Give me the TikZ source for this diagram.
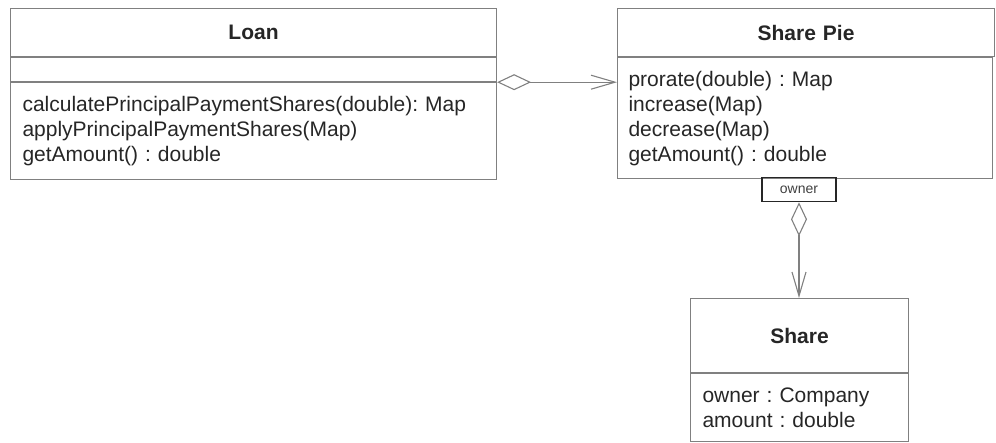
\documentclass[tikz,border=0pt]{standalone}
\usepackage{fontspec}
\setmainfont{Liberation Sans}
\frenchspacing
\usepackage{tikz}
\usetikzlibrary{arrows.meta, positioning}
\tikzset{
  cls/.style={rectangle, draw=black!50, line width=1.1pt, anchor=north west,
              inner xsep=12pt, inner ysep=0pt, text=black!85,
              font=\fontsize{21}{25}\selectfont},
  clsname/.style={cls, align=center, font=\fontsize{21}{25}\selectfont\bfseries},
  clsbody/.style={cls, align=left},
  rolelbl/.style={rectangle, draw=black!85, line width=1.3pt, anchor=north,
                  minimum width=74pt, minimum height=24pt, inner sep=1pt,
                  text=black!75, font=\fontsize{14}{16}\selectfont},
  aggr/.style={{Diamond[open, length=34pt, width=16pt]}-{Straight Barb[length=24pt, width=14pt]},
               line width=1.1pt, draw=black!50},
}

\begin{document}
\begin{tikzpicture}[x=1pt, y=-1pt]
  \useasboundingbox (0,0) rectangle (996,443);
  % Loan
  \node[clsname, minimum height=48pt, text width=462pt] (loan) at (10,8) {Loan};
  \node[cls, minimum height=24pt, text width=462pt] (loanattr) at (loan.south west) {};
  \node[clsbody, minimum height=97pt, text width=462pt] (loanops) at (loanattr.south west)
    {calculatePrincipalPaymentShares(double): Map\\applyPrincipalPaymentShares(Map)\\getAmount() : double};
  % Share Pie
  \node[clsname, minimum height=48pt, text width=353pt] (pie) at (617,8) {Share Pie};
  \node[clsbody, minimum height=121pt, text width=353pt, inner xsep=11pt] (pieops) at (pie.south west)
    {prorate(double) : Map\\increase(Map)\\decrease(Map)\\getAmount() : double};
  % Share
  \node[clsname, minimum height=74pt, text width=194pt] (share) at (690,298) {Share};
  \node[clsbody, minimum height=68pt, text width=194pt] (shareattr) at (share.south west)
    {owner : Company\\amount : double};
  % role
  \node[rolelbl] (owner) at (799,177) {owner};
  \draw[aggr] (loanops.north east) -- (loanops.north east -| pieops.west);
  \draw[aggr] (owner.south) -- (owner.south |- share.north);
\end{tikzpicture}
\end{document}
